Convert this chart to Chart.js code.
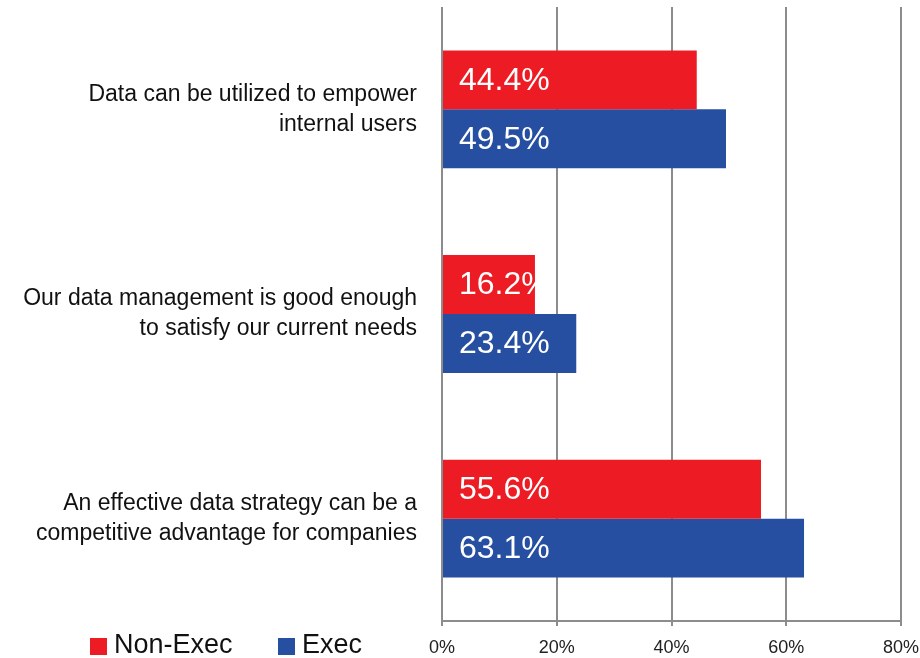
<!DOCTYPE html>
<html>
<head>
<meta charset="utf-8">
<script src="https://cdn.jsdelivr.net/npm/chart.js@4/dist/chart.umd.min.js"></script>
<style>
  html, body { margin: 0; padding: 0; background: #ffffff; }
  #wrap { width: 920px; height: 658px; position: relative; }
</style>
</head>
<body>
<div id="wrap"><canvas id="chart"></canvas></div>
<script>
// Data
const categories = [
    ["Data can be utilized to empower", "internal users"],
    ["Our data management is good enough", "to satisfy our current needs"],
    ["An effective data strategy can be a", "competitive advantage for companies"]
];
const seriesNames = ["Non-Exec", "Exec"];
const nonExecValues = [44.4, 16.2, 55.6];
const execValues = [49.5, 23.4, 63.1];
const xTicks = [0, 20, 40, 60, 80];

const RED = "#ed1c24";
const BLUE = "#264fa2";
const GRID = "#8c8c8c";
const FONT = "'Liberation Sans', Arial, sans-serif";

// White value labels drawn inside each bar, clipped to the bar
const barLabels = {
    id: "barLabels",
    afterDatasetsDraw(chart) {
        const ctx = chart.ctx;
        chart.data.datasets.forEach((ds, i) => {
            const meta = chart.getDatasetMeta(i);
            meta.data.forEach((bar, j) => {
                const top = bar.y - bar.height / 2;
                ctx.save();
                ctx.beginPath();
                ctx.rect(bar.base, top, bar.x - bar.base, bar.height);
                ctx.clip();
                ctx.fillStyle = "#ffffff";
                ctx.font = "32px " + FONT;
                ctx.textAlign = "left";
                ctx.textBaseline = "middle";
                ctx.fillText(ds.data[j].toFixed(1) + "%", bar.base + 16, bar.y + 1);
                ctx.restore();
            });
        });
    }
};

// Legend sits in the bottom-left corner, on the tick label row
const cornerLegend = {
    id: "cornerLegend",
    afterDraw(chart) {
        const ctx = chart.ctx;
        const spots = [90, 278];
        ctx.save();
        chart.data.datasets.forEach((ds, i) => {
            const x = spots[i];
            ctx.fillStyle = ds.backgroundColor;
            ctx.fillRect(x, 638, 17, 17);
            ctx.fillStyle = "#111111";
            ctx.font = "27px " + FONT;
            ctx.textAlign = "left";
            ctx.textBaseline = "middle";
            ctx.fillText(ds.label, x + 24, 646);
        });
        ctx.restore();
    }
};

new Chart(document.getElementById("chart"), {
    type: "bar",
    data: {
        labels: categories,
        datasets: [
            { label: seriesNames[0], data: nonExecValues, backgroundColor: RED },
            { label: seriesNames[1], data: execValues, backgroundColor: BLUE }
        ]
    },
    options: {
        indexAxis: "y",
        responsive: true,
        maintainAspectRatio: false,
        animation: false,
        layout: { padding: { top: 7, right: 19, left: 0, bottom: 0 } },
        datasets: {
            bar: { categoryPercentage: 0.576, barPercentage: 1.0 }
        },
        plugins: {
            legend: { display: false },
            tooltip: { enabled: false }
        },
        scales: {
            x: {
                min: 0,
                max: 80,
                afterBuildTicks: (scale) => {
                    scale.ticks = xTicks.map(v => ({ value: v }));
                },
                afterFit: (scale) => {
                    scale.height = 37;
                    scale.paddingLeft = 0;
                    scale.paddingRight = 0;
                },
                grid: {
                    color: GRID,
                    lineWidth: 2,
                    tickLength: 5,
                    drawTicks: true
                },
                border: { color: GRID, width: 2 },
                ticks: {
                    padding: 11,
                    color: "#222222",
                    font: { family: FONT, size: 18 },
                    maxRotation: 0,
                    callback: (value) => value + "%"
                }
            },
            y: {
                afterFit: (scale) => {
                    scale.width = 442;
                    scale.paddingTop = 0;
                    scale.paddingBottom = 0;
                },
                grid: { display: false },
                border: { display: false },
                ticks: {
                    padding: 17,
                    color: "#111111",
                    font: { family: FONT, size: 23, lineHeight: 1.3 }
                }
            }
        }
    },
    plugins: [barLabels, cornerLegend]
});
</script>
</body>
</html>
